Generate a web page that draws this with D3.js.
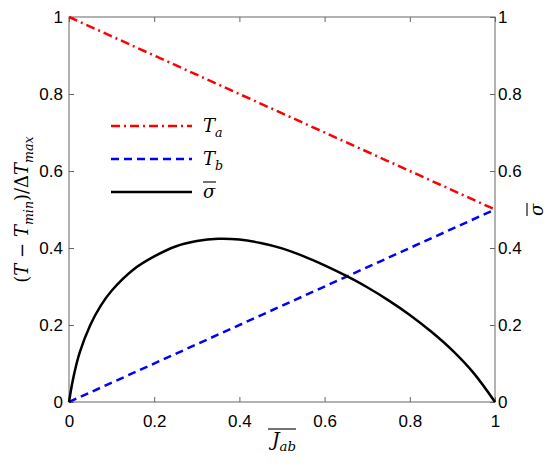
<!DOCTYPE html>
<html>
<head>
<meta charset="utf-8">
<script src="https://cdn.jsdelivr.net/npm/d3@7"></script>
<style>
  body { margin: 0; background: #fff; }
  .math { font-family: "DejaVu Serif", "Liberation Serif", serif; font-style: italic; fill: #000; }
</style>
</head>
<body>
<script>
// chart data
var xTicks = [0, 0.2, 0.4, 0.6, 0.8, 1];
var yTicks = [0, 0.2, 0.4, 0.6, 0.8, 1];

var jab = [0, 1];
var taVals = [1, 0.5];
var tbVals = [0, 0.5];

var sigmaX = [0, 0.01, 0.025, 0.05, 0.075, 0.1, 0.15, 0.2, 0.25, 0.3, 0.35, 0.4,
              0.45, 0.5, 0.55, 0.6, 0.65, 0.7, 0.75, 0.8, 0.85, 0.9, 0.95, 1];
var sigmaY = [0, 0.062, 0.128, 0.20, 0.251, 0.289, 0.343, 0.378, 0.404, 0.418, 0.424, 0.422,
              0.413, 0.399, 0.379, 0.355, 0.328, 0.298, 0.264, 0.226, 0.183, 0.134, 0.075, 0];

var legendItems = [
  {name: "T", sub: "a", bar: false, color: "#ff0000", dash: "9,4,2,4"},
  {name: "T", sub: "b", bar: false, color: "#0000ff", dash: "8,5"},
  {name: "σ", sub: "", bar: true, color: "#000000", dash: null}
];

var width = 550, height = 468;
var margin = {left: 69, right: 55, top: 17, bottom: 66};

var svg = d3.select("body").append("svg")
    .attr("width", width)
    .attr("height", height);

var x = d3.scaleLinear().domain([0, 1]).range([margin.left, width - margin.right]);
var y = d3.scaleLinear().domain([0, 1]).range([height - margin.bottom, margin.top]);
var y2 = d3.scaleLinear().domain([0, 1]).range([height - margin.bottom, margin.top]);

var fmt = function(d){ return d === 0 || d === 1 ? String(d) : d3.format(".1f")(d); };
var axisColor = "#666";

//axes, ticks pointing inward
function styleAxis(g){
  g.attr("font-family", "'Liberation Sans', Arial, Helvetica, sans-serif")
   .attr("font-size", 17);
  g.select(".domain").remove();
  g.selectAll(".tick line").attr("stroke", axisColor);
  g.selectAll(".tick text").attr("fill", "#000");
}

svg.append("g")
    .attr("transform", "translate(0," + y(0) + ")")
    .call(d3.axisBottom(x).tickValues(xTicks).tickFormat(fmt).tickSizeInner(-5).tickPadding(10))
    .call(styleAxis)
    .selectAll("text").attr("dy", "0.9em");

svg.append("g")
    .attr("transform", "translate(0," + y(1) + ")")
    .call(d3.axisTop(x).tickValues(xTicks).tickFormat("").tickSizeInner(-5))
    .call(styleAxis);

svg.append("g")
    .attr("transform", "translate(" + x(0) + ",0)")
    .call(d3.axisLeft(y).tickValues(yTicks).tickFormat(fmt).tickSizeInner(-5).tickPadding(6))
    .call(styleAxis);

svg.append("g")
    .attr("transform", "translate(" + x(1) + ",0)")
    .call(d3.axisRight(y2).tickValues(yTicks).tickFormat(fmt).tickSizeInner(-5).tickPadding(3))
    .call(styleAxis);

//box
svg.append("rect")
    .attr("x", x(0)).attr("y", y(1))
    .attr("width", x(1) - x(0)).attr("height", y(0) - y(1))
    .attr("fill", "none")
    .attr("stroke", axisColor)
    .attr("stroke-width", 1);

//lines
var line = d3.line()
    .x(function(d){ return x(d[0]); })
    .y(function(d){ return y(d[1]); });

svg.append("path")
    .datum(jab.map(function(v, i){ return [v, taVals[i]]; }))
    .attr("d", line)
    .attr("fill", "none")
    .attr("stroke", legendItems[0].color)
    .attr("stroke-width", 2.5)
    .attr("stroke-dasharray", legendItems[0].dash);

svg.append("path")
    .datum(jab.map(function(v, i){ return [v, tbVals[i]]; }))
    .attr("d", line)
    .attr("fill", "none")
    .attr("stroke", legendItems[1].color)
    .attr("stroke-width", 2.5)
    .attr("stroke-dasharray", legendItems[1].dash);

svg.append("path")
    .datum(sigmaX.map(function(v, i){ return [v, sigmaY[i]]; }))
    .attr("d", line.curve(d3.curveCatmullRom.alpha(0.5)))
    .attr("fill", "none")
    .attr("stroke", legendItems[2].color)
    .attr("stroke-width", 2.5);

//math label helper: base text with italic subscript, optional overline
function mathLabel(g, parts, size, bar){
  var t = g.append("text").attr("class", "math").attr("font-size", size);
  parts.forEach(function(p){
    var s = t.append("tspan").text(p.text);
    if (p.sub) s.attr("font-size", size * 0.7).attr("dy", size * 0.25);
    else if (p.up) s.attr("dy", -size * 0.25);
    if (p.roman) s.attr("font-style", "normal");
  });
  if (bar){
    var bb = t.node().getBBox();
    g.append("line")
      .attr("x1", bb.x).attr("x2", bb.x + bb.width)
      .attr("y1", bb.y + 1).attr("y2", bb.y + 1)
      .attr("stroke", "#000").attr("stroke-width", 1.1);
  }
  return t;
}

//legend
var legend = svg.append("g").attr("transform", "translate(111,126)");
legendItems.forEach(function(d, i){
  var row = legend.append("g").attr("transform", "translate(0," + (i * 33) + ")");
  row.append("line")
      .attr("x1", 0).attr("x2", 81)
      .attr("stroke", d.color)
      .attr("stroke-width", 2.5)
      .attr("stroke-dasharray", d.dash);
  var lab = row.append("g").attr("transform", "translate(92,6)");
  var parts = [{text: d.name}];
  if (d.sub) parts.push({text: d.sub, sub: true});
  mathLabel(lab, parts, 18, d.bar);
});

//x label
var xl = svg.append("g");
var xt = mathLabel(xl, [{text: "J"}, {text: "ab", sub: true}], 19, true);
var xb = xt.node().getBBox();
xl.attr("transform", "translate(" + (x(0.5) - xb.width / 2 - xb.x) + ",446)");

//y label
var yl = svg.append("g");
var yt = mathLabel(yl, [{text: "(", roman: true}, {text: "T"}, {text: " − ", roman: true}, {text: "T"},
    {text: "min", sub: true}, {text: ")/Δ", roman: true, up: true}, {text: "T"}, {text: "max", sub: true}], 18, false);
var yb = yt.node().getBBox();
yl.attr("transform", "translate(28," + (y(0.5) + yb.width / 2) + ") rotate(-90)");

//right label
var rl = svg.append("g");
var rt = mathLabel(rl, [{text: "σ"}], 18, true);
var rb = rt.node().getBBox();
rl.attr("transform", "translate(543," + (y(0.5) + rb.width / 2) + ") rotate(-90)");
</script>
</body>
</html>
